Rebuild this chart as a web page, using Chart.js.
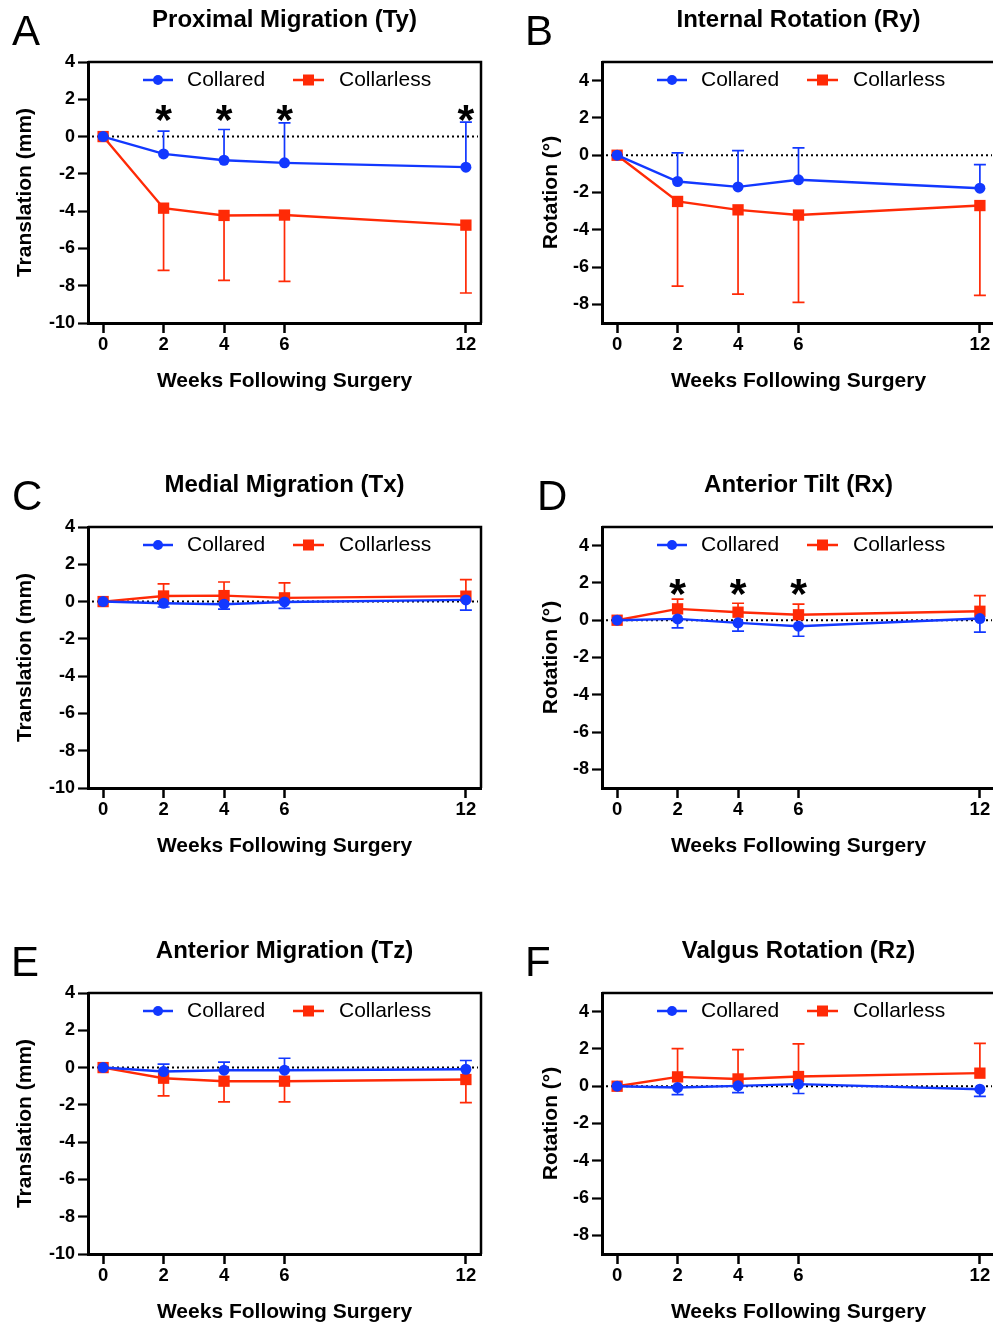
<!DOCTYPE html>
<html>
<head>
<meta charset="utf-8">
<script src="https://cdn.jsdelivr.net/npm/chart.js@4.4.1/dist/chart.umd.min.js"></script>
<style>
html, body { margin: 0; padding: 0; background: #fff; overflow: hidden; width: 993px; height: 1325px; }
canvas { position: absolute; }
.lbl { position: absolute; font: 42px 'Liberation Sans', Arial, sans-serif; line-height: 42px; color: #000; }
</style>
</head>
<body>
<canvas id="chartA" width="496" height="400" style="left:0;top:0"></canvas>
<canvas id="chartB" width="496" height="400" style="left:514px;top:0"></canvas>
<canvas id="chartC" width="496" height="400" style="left:0;top:465px"></canvas>
<canvas id="chartD" width="496" height="400" style="left:514px;top:465px"></canvas>
<canvas id="chartE" width="496" height="400" style="left:0;top:931px"></canvas>
<canvas id="chartF" width="496" height="400" style="left:514px;top:931px"></canvas>
<div class="lbl" style="left:12px;top:10px">A</div>
<div class="lbl" style="left:525px;top:10px">B</div>
<div class="lbl" style="left:12px;top:475px">C</div>
<div class="lbl" style="left:537px;top:475px">D</div>
<div class="lbl" style="left:11px;top:941px">E</div>
<div class="lbl" style="left:525px;top:941px">F</div>
<script>
const weeks = [0, 2, 4, 6, 12];
const weekTicks = [0, 2, 4, 6, 12];
const transTicks = [-10, -8, -6, -4, -2, 0, 2, 4];
const rotTicks = [-8, -6, -4, -2, 0, 2, 4];

// A - proximal migration (Ty), mm
const collaredA = [0, -0.93, -1.27, -1.41, -1.64];
const collaredSdA = [0, 1.22, 1.65, 2.14, 2.41];
const collarlessA = [0, -3.84, -4.23, -4.21, -4.75];
const collarlessSdA = [0, 3.34, 3.48, 3.56, 3.64];
const starsA = [2, 4, 6, 12];

// B - internal rotation (Ry), deg
const collaredB = [0, -1.41, -1.70, -1.32, -1.77];
const collaredSdB = [0, 1.54, 1.95, 1.71, 1.27];
const collarlessB = [0, -2.48, -2.93, -3.21, -2.70];
const collarlessSdB = [0, 4.54, 4.52, 4.68, 4.82];

// C - medial migration (Tx), mm
const collaredC = [0, -0.09, -0.14, -0.02, 0.09];
const collaredSdC = [0, 0.2, 0.27, 0.34, 0.55];
const collarlessC = [0, 0.30, 0.32, 0.20, 0.29];
const collarlessSdC = [0, 0.65, 0.73, 0.80, 0.89];

// D - anterior tilt (Rx), deg
const collaredD = [0, 0.07, -0.14, -0.32, 0.09];
const collaredSdD = [0, 0.48, 0.45, 0.54, 0.73];
const collarlessD = [0, 0.61, 0.43, 0.29, 0.48];
const collarlessSdD = [0, 0.52, 0.48, 0.57, 0.84];
const starsD = [2, 4, 6];

// E - anterior migration (Tz), mm
const collaredE = [0, -0.21, -0.14, -0.14, -0.09];
const collaredSdE = [0, 0.39, 0.43, 0.64, 0.47];
const collarlessE = [0, -0.57, -0.73, -0.73, -0.64];
const collarlessSdE = [0, 0.95, 1.11, 1.11, 1.24];

// F - valgus rotation (Rz), deg
const collaredF = [0, -0.07, 0.02, 0.11, -0.16];
const collaredSdF = [0, 0.38, 0.36, 0.50, 0.39];
const collarlessF = [0, 0.50, 0.39, 0.52, 0.70];
const collarlessSdF = [0, 1.52, 1.57, 1.75, 1.60];

const BLUE = '#1238ff';
const RED = '#ff2a06';
const FONT = "'Liberation Sans', Arial, Helvetica, sans-serif";

Chart.defaults.font.family = FONT;
Chart.defaults.color = '#000';

const extras = {
    id: 'extras',
    beforeDatasetsDraw(chart) {
        const ctx = chart.ctx, a = chart.chartArea, y = chart.scales.y;
        const y0 = y.getPixelForValue(0);
        ctx.save();
        ctx.setLineDash([2, 3]);
        ctx.lineWidth = 2;
        ctx.strokeStyle = '#000';
        ctx.beginPath();
        ctx.moveTo(a.left + 4, y0);
        ctx.lineTo(a.right - 3, y0);
        ctx.stroke();
        ctx.restore();

        // error bars (one sided)
        chart.data.datasets.forEach((ds, i) => {
            const pts = chart.getDatasetMeta(i).data;
            ctx.save();
            ctx.strokeStyle = ds.borderColor;
            ctx.lineWidth = 1.7;
            ds.sd.forEach((s, j) => {
                if (!s) return;
                const p = pts[j];
                const ye = y.getPixelForValue(ds.data[j].y + ds.errDir * s);
                ctx.beginPath();
                ctx.moveTo(p.x, p.y);
                ctx.lineTo(p.x, ye);
                ctx.moveTo(p.x - 6, ye);
                ctx.lineTo(p.x + 6, ye);
                ctx.stroke();
            });
            ctx.restore();
        });
    },
    afterDraw(chart) {
        const ctx = chart.ctx, a = chart.chartArea;
        const opts = chart.options.plugins.extras;
        ctx.save();
        // top and right frame
        ctx.strokeStyle = '#000';
        ctx.lineWidth = 2.5;
        ctx.beginPath();
        ctx.moveTo(a.left, a.top);
        ctx.lineTo(a.right, a.top);
        ctx.lineTo(a.right, a.bottom);
        ctx.stroke();

        // significance stars
        ctx.fillStyle = '#000';
        ctx.font = 'bold 43px ' + FONT;
        ctx.textAlign = 'center';
        ctx.textBaseline = 'alphabetic';
        opts.stars.forEach(w => {
            const px = chart.scales.x.getPixelForValue(w);
            const py = chart.scales.y.getPixelForValue(opts.starY);
            ctx.fillText('*', px, py + 22);
        });

        // legend inside plot
        const ly = a.top + 18;
        const items = [
            {ds: chart.data.datasets[0], x0: 55, x1: 85, tx: 99},
            {ds: chart.data.datasets[1], x0: 205, x1: 236, tx: 251}
        ];
        items.forEach(it => {
            const c = it.ds.borderColor;
            ctx.strokeStyle = c;
            ctx.fillStyle = c;
            ctx.lineWidth = 2.5;
            ctx.beginPath();
            ctx.moveTo(a.left + it.x0, ly);
            ctx.lineTo(a.left + it.x1, ly);
            ctx.stroke();
            const mx = a.left + (it.x0 + it.x1) / 2;
            if (it.ds.pointStyle === 'rect') {
                ctx.fillRect(mx - 5.5, ly - 5.5, 11, 11);
            } else {
                ctx.beginPath();
                ctx.arc(mx, ly, 5, 0, Math.PI * 2);
                ctx.fill();
            }
            ctx.fillStyle = '#000';
            ctx.font = '21px ' + FONT;
            ctx.textAlign = 'left';
            ctx.textBaseline = 'middle';
            ctx.fillText(it.ds.label, a.left + it.tx, ly);
        });
        ctx.restore();
    }
};

function pts(vals) {
    return weeks.map((w, i) => ({x: w, y: vals[i]}));
}

function makePanel(id, title, yTitle, yMin, yMax, yTicks, titleGap, collared, collaredSd, collaredDir,
                   collarless, collarlessSd, collarlessDir, stars, starY) {
    return new Chart(document.getElementById(id), {
        type: 'line',
        data: {
            datasets: [
                {
                    label: 'Collared',
                    data: pts(collared),
                    sd: collaredSd,
                    errDir: collaredDir,
                    borderColor: BLUE,
                    backgroundColor: BLUE,
                    borderWidth: 2.4,
                    pointStyle: 'circle',
                    pointRadius: 5.5,
                    pointBorderWidth: 0,
                    tension: 0
                },
                {
                    label: 'Collarless',
                    data: pts(collarless),
                    sd: collarlessSd,
                    errDir: collarlessDir,
                    borderColor: RED,
                    backgroundColor: RED,
                    borderWidth: 2.4,
                    pointStyle: 'rect',
                    pointRadius: 8,
                    pointBorderWidth: 0,
                    tension: 0
                }
            ]
        },
        options: {
            responsive: false,
            animation: false,
            events: [],
            devicePixelRatio: 1,
            layout: {padding: {left: 0, right: 15, top: 0, bottom: 0}},
            plugins: {
                legend: {display: false},
                tooltip: {enabled: false},
                title: {
                    display: true,
                    text: title,
                    fullSize: false,
                    color: '#000',
                    font: {size: 24, weight: 'bold', lineHeight: 1.2},
                    padding: {top: 6, bottom: 27.2}
                },
                extras: {stars: stars, starY: starY}
            },
            scales: {
                x: {
                    type: 'linear',
                    min: -0.5,
                    max: 12.5,
                    afterBuildTicks: s => { s.ticks = weekTicks.map(v => ({value: v})); },
                    afterFit: s => { s.height = 77; },
                    grid: {drawOnChartArea: false, drawTicks: true, tickLength: 10, tickWidth: 2.5, tickColor: '#000'},
                    border: {display: true, width: 3, color: '#000'},
                    ticks: {font: {size: 18.5, weight: 'bold'}, padding: 1, maxRotation: 0, color: '#000'},
                    title: {display: true, text: 'Weeks Following Surgery', font: {size: 21, weight: 'bold'},
                            padding: {top: 0, bottom: 6}, color: '#000'}
                },
                y: {
                    type: 'linear',
                    min: yMin,
                    max: yMax,
                    afterBuildTicks: s => { s.ticks = yTicks.map(v => ({value: v})); },
                    afterFit: s => { s.width = 88; },
                    grid: {drawOnChartArea: false, drawTicks: true, tickLength: 10, tickWidth: 2.2, tickColor: '#000'},
                    border: {display: true, width: 3, color: '#000'},
                    ticks: {font: {size: 18, weight: 'bold'}, padding: 3, color: '#000'},
                    title: {display: true, text: yTitle, font: {size: 21, weight: 'bold'},
                            padding: {top: titleGap, bottom: 0}, color: '#000'}
                }
            }
        },
        plugins: [extras]
    });
}

makePanel('chartA', 'Proximal Migration (Ty)', 'Translation (mm)', -10, 4, transTicks, 13,
    collaredA, collaredSdA, 1, collarlessA, collarlessSdA, -1, starsA, 1.34);
makePanel('chartB', 'Internal Rotation (Ry)', 'Rotation (°)', -9, 5, rotTicks, 25,
    collaredB, collaredSdB, 1, collarlessB, collarlessSdB, -1, [], 0);
makePanel('chartC', 'Medial Migration (Tx)', 'Translation (mm)', -10, 4, transTicks, 13,
    collaredC, collaredSdC, -1, collarlessC, collarlessSdC, 1, [], 0);
makePanel('chartD', 'Anterior Tilt (Rx)', 'Rotation (°)', -9, 5, rotTicks, 25,
    collaredD, collaredSdD, -1, collarlessD, collarlessSdD, 1, starsD, 1.82);
makePanel('chartE', 'Anterior Migration (Tz)', 'Translation (mm)', -10, 4, transTicks, 13,
    collaredE, collaredSdE, 1, collarlessE, collarlessSdE, -1, [], 0);
makePanel('chartF', 'Valgus Rotation (Rz)', 'Rotation (°)', -9, 5, rotTicks, 25,
    collaredF, collaredSdF, -1, collarlessF, collarlessSdF, 1, [], 0);
</script>
</body>
</html>
